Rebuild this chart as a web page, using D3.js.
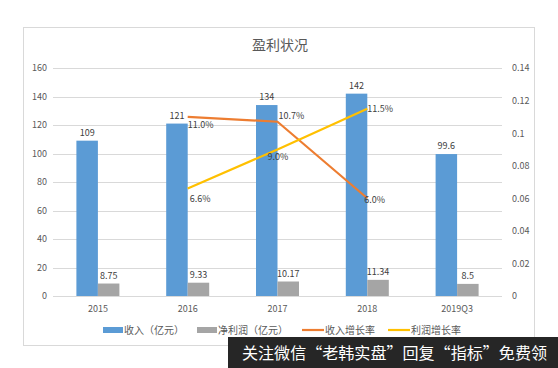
<!DOCTYPE html>
<html><head><meta charset="utf-8">
<script src="https://cdn.jsdelivr.net/npm/d3@7"></script>
<style>body{margin:0;background:#fff}svg{display:block}text{font-family:"Noto Sans CJK SC","Noto Sans",sans-serif}</style>
</head><body>
<script>
const categories = ["2015","2016","2017","2018","2019Q3"];
const revenue = [109,121,134,142,99.6];
const profit = [8.75,9.33,10.17,11.34,8.5];
const revGrowth = [null,0.110,0.107,0.060,null];
const profGrowth = [null,0.066,0.090,0.115,null];
const leftTicks = [0,20,40,60,80,100,120,140,160];
const rightTicks = [0,0.02,0.04,0.06,0.08,0.1,0.12,0.14];
const seriesNames = ["收入（亿元）","净利润（亿元）","收入增长率","利润增长率"];
const titleText = "盈利状况";
const watermark = "关注微信“老韩实盘”回复“指标”免费领";

const W=558,H=368;
const C={blue:"#5B9BD5",grey:"#A5A5A5",orange:"#ED7D31",yellow:"#FFC000",grid:"#D9D9D9",text:"#595959"};
const svg=d3.select("body").append("svg").attr("width",W).attr("height",H);
svg.append("rect").attr("x",23.5).attr("y",27.5).attr("width",511).attr("height",318).attr("fill","#fff").attr("stroke","#D9D9D9");
svg.append("text").attr("x",280).attr("y",50).attr("text-anchor","middle").attr("font-size",14).attr("fill",C.text).text(titleText);

const x=d3.scaleBand().domain(categories).range([53,502]);
const yL=d3.scaleLinear().domain([0,160]).range([296,68]);
const yR=d3.scaleLinear().domain([0,0.14]).range([296,68]);

svg.append("g").selectAll("line").data(leftTicks).join("line")
  .attr("x1",53).attr("x2",502).attr("y1",d=>Math.round(yL(d))+0.5).attr("y2",d=>Math.round(yL(d))+0.5)
  .attr("stroke",C.grid).attr("stroke-width",1);

const ax=svg.append("g").attr("transform","translate(47,0)").call(d3.axisLeft(yL).tickValues(leftTicks).tickSize(0).tickPadding(0));
ax.select(".domain").remove();
ax.selectAll("text").attr("fill",C.text).attr("font-size",9);
const ar=svg.append("g").attr("transform","translate(512,0)").call(d3.axisRight(yR).tickValues(rightTicks).tickSize(0).tickPadding(0).tickFormat(d=>d===0?"0":String(+d.toFixed(2))));
ar.select(".domain").remove();
ar.selectAll("text").attr("fill",C.text).attr("font-size",9);
const ab=svg.append("g").attr("transform","translate(0,296)").call(d3.axisBottom(x).tickSize(0).tickPadding(10));
ab.select(".domain").remove();
ab.selectAll("text").attr("fill",C.text).attr("font-size",9);

const bw=21.5;
const cx=d=>x(d)+x.bandwidth()/2;
svg.append("g").selectAll("rect").data(categories).join("rect")
  .attr("x",d=>cx(d)-bw).attr("width",bw).attr("y",(d,i)=>yL(revenue[i])).attr("height",(d,i)=>yL(0)-yL(revenue[i])).attr("fill",C.blue);
svg.append("g").selectAll("rect").data(categories).join("rect")
  .attr("x",d=>cx(d)).attr("width",bw).attr("y",(d,i)=>yL(profit[i])).attr("height",(d,i)=>yL(0)-yL(profit[i])).attr("fill",C.grey);
svg.append("g").selectAll("text").data(categories).join("text")
  .attr("x",d=>cx(d)-bw/2).attr("y",(d,i)=>yL(revenue[i])-5).attr("text-anchor","middle").attr("font-size",9).attr("fill","#404040").text((d,i)=>revenue[i]);
svg.append("g").selectAll("text").data(categories).join("text")
  .attr("x",d=>cx(d)+bw/2).attr("y",(d,i)=>yL(profit[i])-5).attr("text-anchor","middle").attr("font-size",9).attr("fill","#404040").text((d,i)=>profit[i]);

function drawLine(vals,color,offsets){
  const pts=categories.map((c,i)=>({c,v:vals[i],i})).filter(p=>p.v!=null);
  svg.append("path").datum(pts).attr("fill","none").attr("stroke",color).attr("stroke-width",2.2)
    .attr("d",d3.line().x(p=>cx(p.c)).y(p=>yR(p.v)));
  svg.append("g").selectAll("text").data(pts).join("text")
    .attr("x",p=>cx(p.c)+offsets[p.i][0]).attr("y",p=>yR(p.v)+offsets[p.i][1])
    .attr("font-size",9).attr("fill","#404040").text(p=>(p.v*100).toFixed(1)+"%");
}
drawLine(revGrowth,C.orange,{1:[0,11],2:[1,-3],3:[-3,5]});
drawLine(profGrowth,C.yellow,{1:[2,13],2:[-10,11],3:[0,3]});

const ly=330;
const lg=svg.append("g");
const items=[{x:103,c:C.blue,t:"rect"},{x:197,c:C.grey,t:"rect"},{x:302,c:C.orange,t:"line"},{x:388,c:C.yellow,t:"line"}];
items.forEach((it,i)=>{
  if(it.t==="rect") lg.append("rect").attr("x",it.x).attr("y",ly-3).attr("width",20).attr("height",6).attr("fill",it.c);
  else lg.append("line").attr("x1",it.x).attr("x2",it.x+22).attr("y1",ly).attr("y2",ly).attr("stroke",it.c).attr("stroke-width",2.2);
  lg.append("text").attr("x",it.x+(it.t==="rect"?21:23)).attr("y",ly+3.5).attr("font-size",10).attr("fill",C.text).text(seriesNames[i]);
});

svg.append("rect").attr("x",228).attr("y",337).attr("width",330).attr("height",31).attr("fill","#262626");
svg.append("text").attr("x",242).attr("y",359).attr("font-size",16).attr("fill","#fff").attr("textLength",305).attr("lengthAdjust","spacingAndGlyphs").text(watermark);
</script>
</body></html>
